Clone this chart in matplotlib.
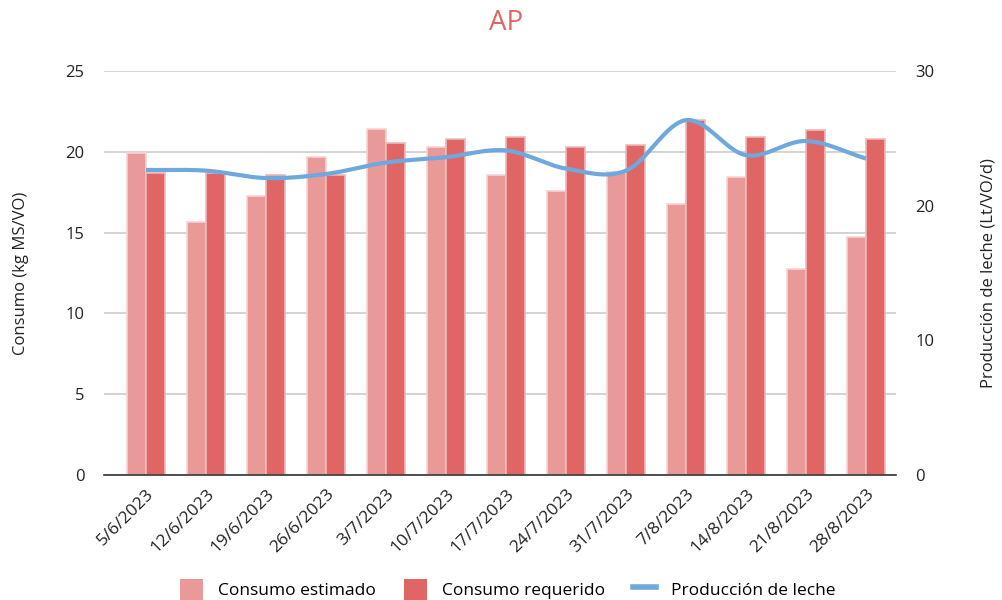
import numpy as np
import matplotlib.pyplot as plt
from matplotlib.lines import Line2D
from matplotlib.patches import Patch

plt.rcParams['font.family'] = ['Open Sans', 'DejaVu Sans']

fechas = ["5/6/2023", "12/6/2023", "19/6/2023", "26/6/2023", "3/7/2023", "10/7/2023",
          "17/7/2023", "24/7/2023", "31/7/2023", "7/8/2023", "14/8/2023", "21/8/2023",
          "28/8/2023"]
consumo_estimado = [19.9, 15.65, 17.25, 19.7, 21.4, 20.3, 18.55, 17.55, 18.75, 16.8, 18.45, 12.75, 14.7]
consumo_requerido = [18.7, 18.7, 18.55, 18.55, 20.55, 20.8, 20.9, 20.3, 20.4, 21.95, 20.9, 21.35, 20.8]
produccion_leche = [22.65, 22.6, 22.05, 22.35, 23.2, 23.6, 24.1, 22.75, 22.6, 26.35, 23.75, 24.8, 23.5]

c_est = "#ea9999"
c_req = "#e06666"
c_line = "#6fa8dc"


def suavizar(x, y, n=40):
    # curva Catmull-Rom entre puntos consecutivos
    x = np.asarray(x, float)
    y = np.asarray(y, float)
    px = np.concatenate([[2 * x[0] - x[1]], x, [2 * x[-1] - x[-2]]])
    py = np.concatenate([[2 * y[0] - y[1]], y, [2 * y[-1] - y[-2]]])
    t = np.linspace(0, 1, n)
    xs, ys = [], []
    for i in range(1, len(px) - 2):
        for p, out in ((px, xs), (py, ys)):
            p0, p1, p2, p3 = p[i - 1], p[i], p[i + 1], p[i + 2]
            out.append(0.5 * (2 * p1 + (-p0 + p2) * t
                              + (2 * p0 - 5 * p1 + 4 * p2 - p3) * t ** 2
                              + (-p0 + 3 * p1 - 3 * p2 + p3) * t ** 3))
    return np.concatenate(xs), np.concatenate(ys)


fig = plt.figure(figsize=(10.02, 6), dpi=100)
ax = fig.add_axes([0.1038, 0.2083, 0.7904, 0.6734])
ax2 = ax.twinx()

x = np.arange(len(fechas))
w = 0.31
ax.bar(x - w / 2, consumo_estimado, w, color=c_est, edgecolor="#f6d4d4", linewidth=1.2, zorder=2)
ax.bar(x + w / 2, consumo_requerido, w, color=c_req, edgecolor="#f2b8b8", linewidth=1.2, zorder=2)

xs, ys = suavizar(x, produccion_leche)
ax2.plot(xs, ys, color=c_line, linewidth=3, solid_capstyle="butt", zorder=3)

ax.set_xlim(-0.7, 12.5)
ax.set_ylim(0, 25)
ax.set_yticks([0, 5, 10, 15, 20, 25])
ax2.set_ylim(0, 30)
ax2.set_yticks([0, 10, 20, 30])

ax.grid(axis="y", color="#cccccc", linewidth=1.2, zorder=0)
ax.set_axisbelow(True)
for a in (ax, ax2):
    for s in ("top", "left", "right"):
        a.spines[s].set_visible(False)
    a.tick_params(length=0, labelsize=12, colors="#222222")
ax2.spines["bottom"].set_visible(False)
ax.spines["bottom"].set_color("#333333")
ax.spines["bottom"].set_linewidth(1.2)

ax.set_xticks(x)
ax.set_xticklabels(fechas, rotation=45, ha="right", rotation_mode="anchor", fontsize=12.5)
ax.tick_params(axis="x", pad=8)
ax.tick_params(axis="y", pad=14)
ax2.tick_params(axis="y", pad=14)

ax.set_ylabel("Consumo (kg MS/VO)", fontsize=12, color="#222222", labelpad=26)
ax2.set_ylabel("Producción de leche (Lt/VO/d)", fontsize=12, color="#222222", labelpad=33)

fig.text(0.505, 0.962, "AP", ha="center", va="center", fontsize=20, color=c_req)

handles = [Patch(facecolor=c_est, edgecolor="none"),
           Patch(facecolor=c_req, edgecolor="none"),
           Line2D([0], [0], color=c_line, linewidth=4)]
fig.legend(handles, ["Consumo estimado", "Consumo requerido", "Producción de leche"],
           loc="center", bbox_to_anchor=(0.507, 0.018), ncol=3, frameon=False,
           fontsize=12.5, handlelength=1.3, handleheight=1.5, columnspacing=1.6,
           handletextpad=0.9)

fig.savefig("out.png", dpi=100)
